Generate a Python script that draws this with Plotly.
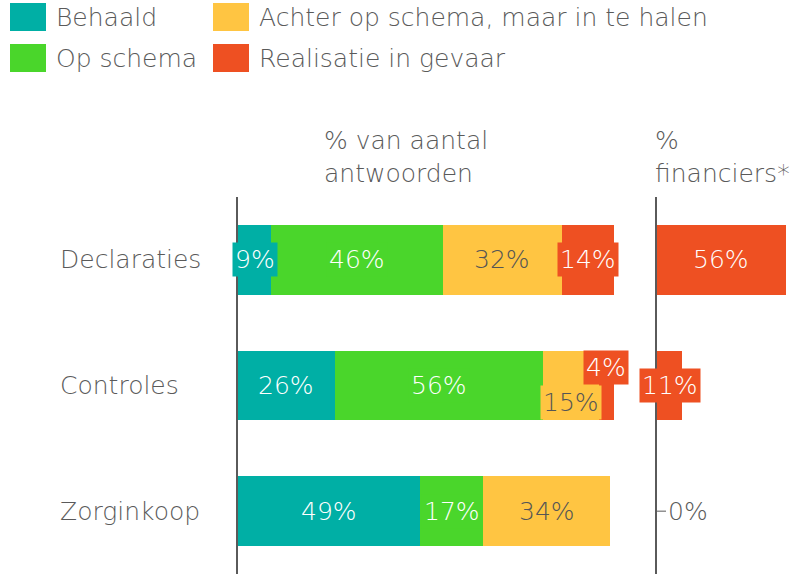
import plotly.graph_objects as go

# ---------------- data ----------------
categories = ["Declaraties", "Controles", "Zorginkoop"]
series_names = ["Behaald", "Op schema", "Achter op schema, maar in te halen", "Realisatie in gevaar"]
behaald = [9, 26, 49]
op_schema = [46, 56, 17]
achter = [32, 15, 34]
gevaar = [14, 4, 0]
financiers = [56, 11, 0]
title_left = "% van aantal<br>antwoorden"
title_right = "%<br>financiers*"

# ---------------- style ----------------
colors = ["#00AFA5", "#4AD62B", "#FFC542", "#EE5022"]
label_colors = ["white", "white", "#555555", "white"]
FONT = "DejaVu Sans"
WT = 200
FS = 25
GREY = "#5a5a5a"
W, H = 791, 574
TOP = 197
BOT = 574
label_shift = {(1, 3): 18, (1, 2): -17}

def px(p):
    return p / W

def py(p):
    return 1 - (p - TOP) / (BOT - TOP)

series = [behaald, op_schema, achter, gevaar]

fig = go.Figure()
for name, vals, col in zip(series_names, series, colors):
    fig.add_trace(go.Bar(
        y=categories, x=vals, name=name, orientation="h",
        marker=dict(color=col, line=dict(width=0)),
        xaxis="x", yaxis="y", showlegend=False, width=0.556,
    ))
fig.add_trace(go.Bar(
    y=categories, x=financiers, name="financiers", orientation="h",
    marker=dict(color=colors[3], line=dict(width=0)),
    xaxis="x2", yaxis="y2", showlegend=False, width=0.556,
))

def f(color=GREY):
    return dict(family=FONT, size=FS, color=color, weight=WT)

ann = []
for ci, cat in enumerate(categories):
    cum = 0
    for si, vals in enumerate(series):
        v = vals[ci]
        if v > 0:
            ann.append(dict(
                x=cum + v / 2, y=cat, xref="x", yref="y", text=f"{v}%",
                showarrow=False, bgcolor=colors[si], borderpad=2,
                yshift=label_shift.get((ci, si), 0), font=f(label_colors[si]),
            ))
        cum += v
for ci, cat in enumerate(categories):
    v = financiers[ci]
    if v > 0:
        ann.append(dict(
            x=v / 2, y=cat, xref="x2", yref="y2", text=f"{v}%",
            showarrow=False, bgcolor=colors[3], borderpad=2, font=f("white"),
        ))
    else:
        ann.append(dict(
            x=0, y=cat, xref="x2", yref="y2", text=f"{v}%",
            showarrow=True, ax=9, ay=0, axref="pixel", ayref="pixel",
            arrowhead=0, arrowwidth=1, arrowcolor=GREY, standoff=0,
            xanchor="left", font=f(),
        ))
for cat in categories:
    ann.append(dict(
        x=px(58), y=cat, xref="paper", yref="y", text=cat, showarrow=False,
        xanchor="left", font=f(),
    ))
ann.append(dict(x=px(322), y=py(124), xref="paper", yref="paper", text=title_left,
                showarrow=False, xanchor="left", yanchor="top", align="left", font=f()))
ann.append(dict(x=px(653), y=py(124), xref="paper", yref="paper", text=title_right,
                showarrow=False, xanchor="left", yanchor="top", align="left", font=f()))

shapes = []
leg_pos = [(10, 17), (10, 58), (213, 17), (213, 58)]
for (lx, ly), name, col in zip(leg_pos, series_names, colors):
    shapes.append(dict(type="rect", xref="paper", yref="paper",
                       x0=px(lx), x1=px(lx + 36), y0=py(ly + 14), y1=py(ly - 14),
                       fillcolor=col, line=dict(width=0)))
    ann.append(dict(x=px(lx + 44), y=py(ly), xref="paper", yref="paper", text=name,
                    showarrow=False, xanchor="left", yanchor="middle", font=f()))

fig.update_layout(
    width=W, height=H, barmode="stack",
    margin=dict(l=0, r=0, t=TOP, b=0),
    plot_bgcolor="white", paper_bgcolor="white",
    xaxis=dict(domain=[px(238), px(640)], range=[0, 108.1], visible=False),
    xaxis2=dict(domain=[px(657), 1], range=[0, 58.3], visible=False),
    yaxis=dict(anchor="x", autorange="reversed", showticklabels=False, showgrid=False,
               showline=True, linecolor=GREY, linewidth=2, zeroline=False, ticks=""),
    yaxis2=dict(anchor="x2", autorange="reversed", showticklabels=False, showgrid=False,
                showline=True, linecolor=GREY, linewidth=2, zeroline=False, ticks="",
                matches="y"),
    annotations=ann, shapes=shapes,
)
fig.write_html("out.html", config={"displayModeBar": False},
               post_script="document.body.style.margin='0';")
